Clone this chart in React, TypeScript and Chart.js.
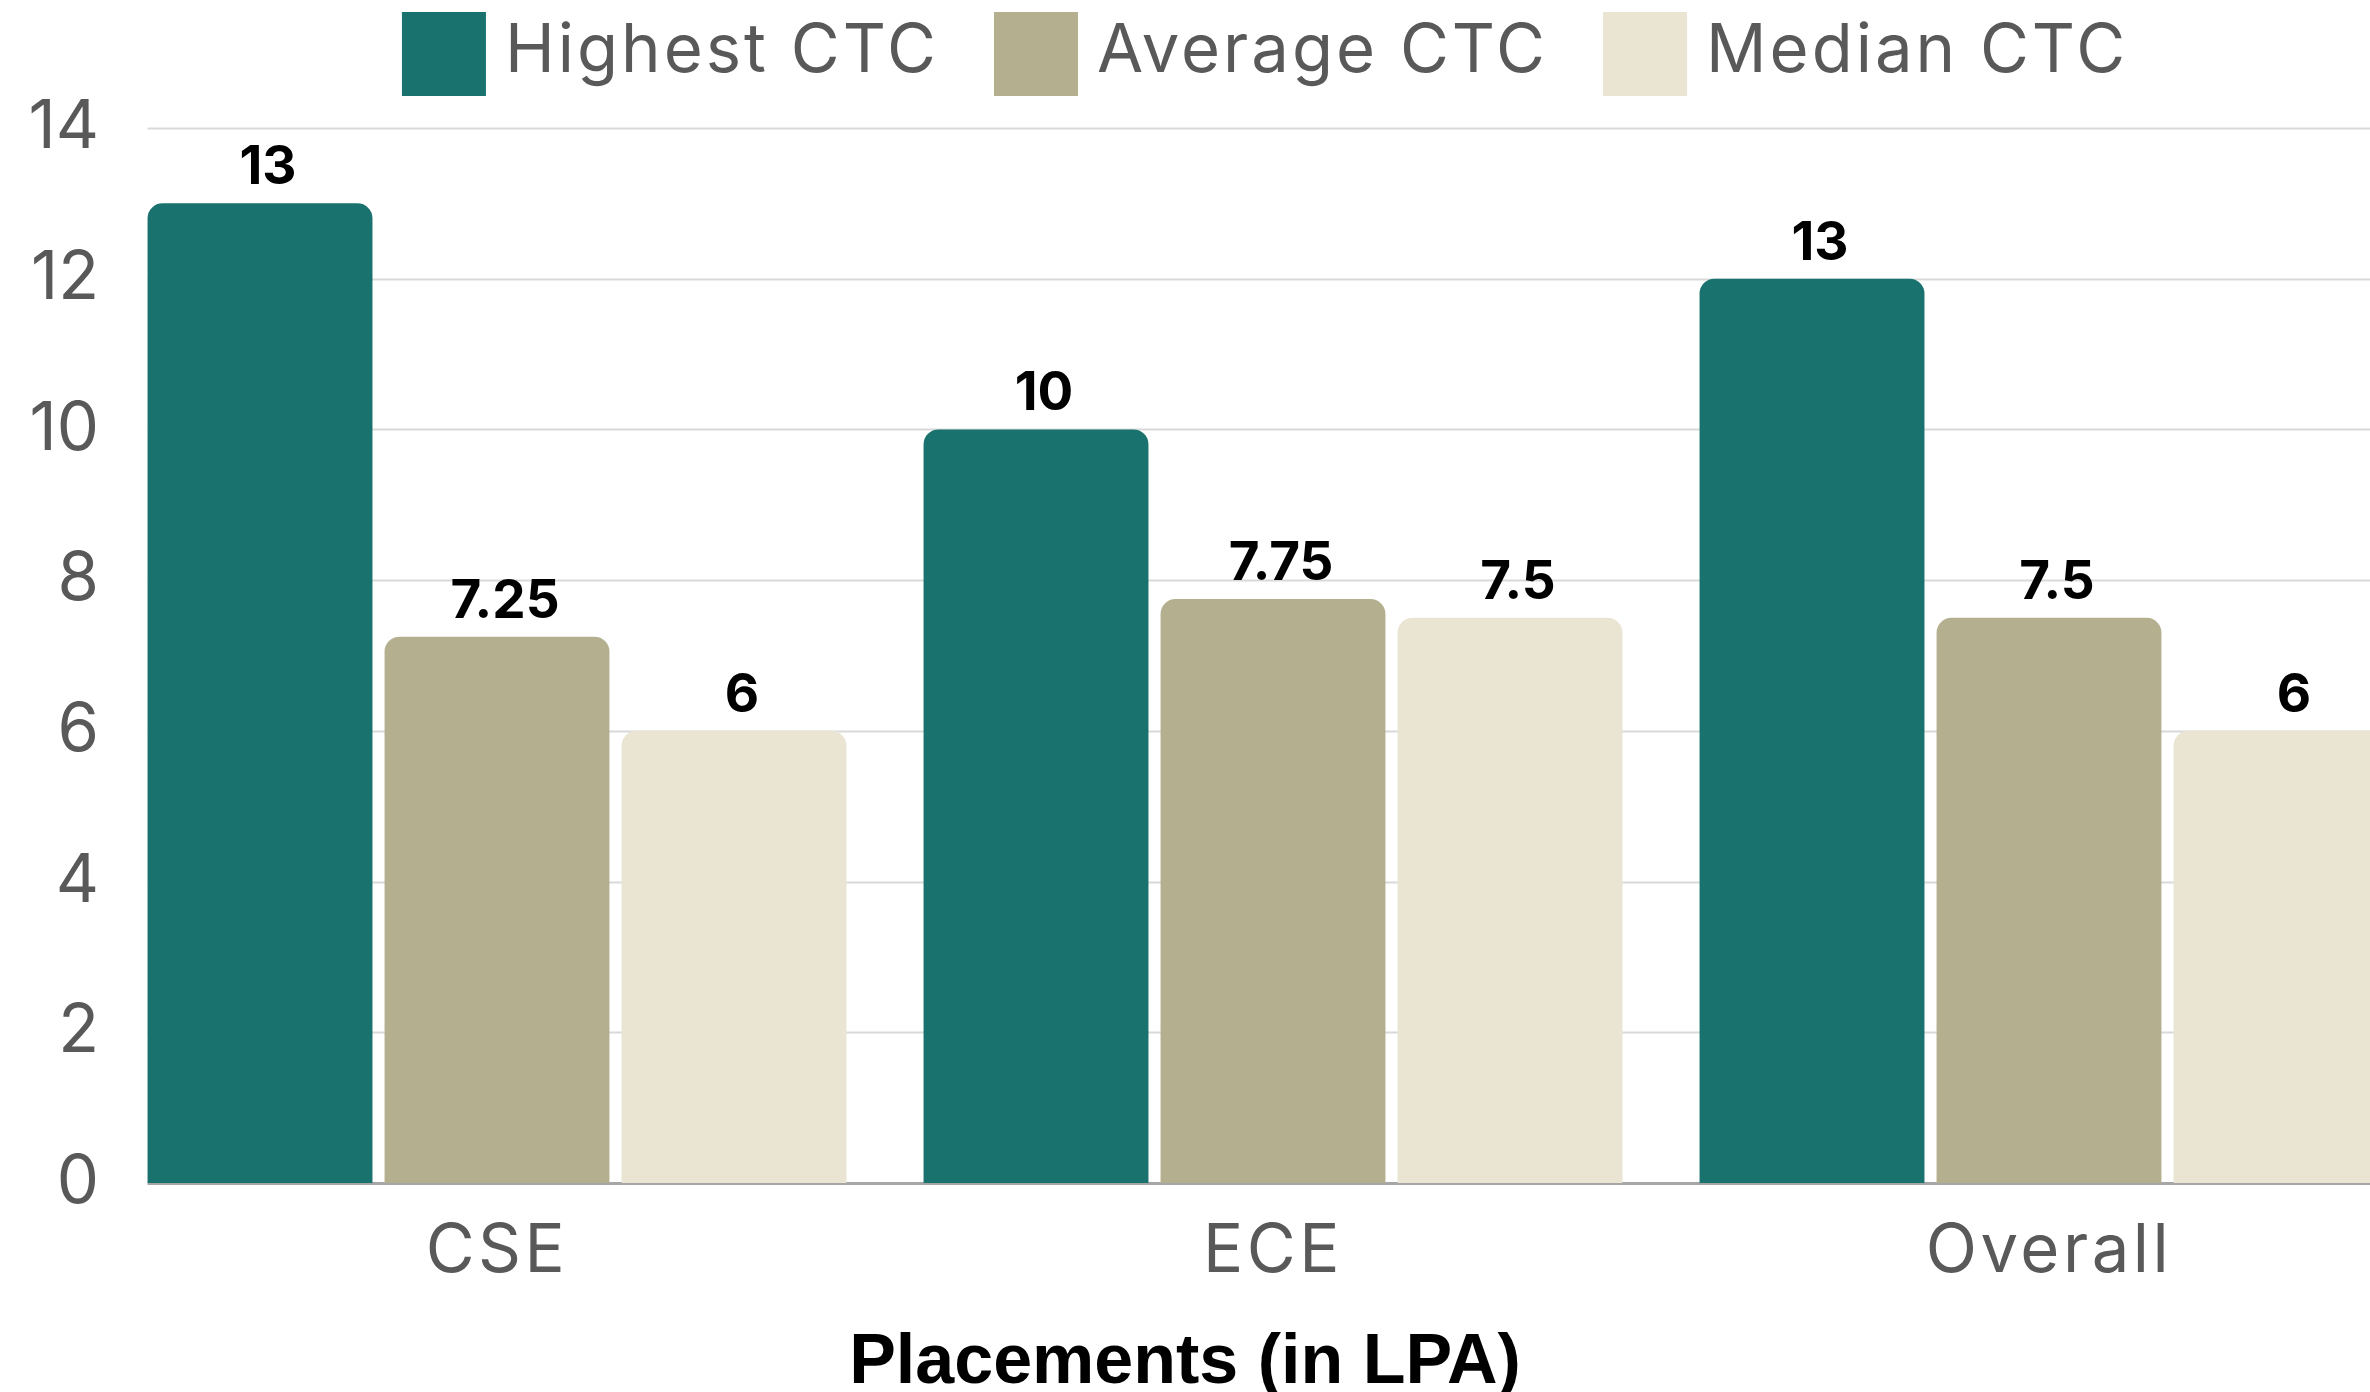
import React, { useEffect, useRef } from "react";
import { Chart, registerables } from "chart.js";

Chart.register(...registerables);

// ---- data ----
const categories = ["CSE", "ECE", "Overall"];
const seriesNames = ["Highest CTC", "Average CTC", "Median CTC"];
const highestCTC = [13, 10, 12];
const averageCTC = [7.25, 7.75, 7.5];
const medianCTC = [6, 7.5, 6];
const highestLabels = ["13", "10", "13"];
const averageLabels = ["7.25", "7.75", "7.5"];
const medianLabels = ["6", "7.5", "6"];
const yMin = 0;
const yMax = 14;
const yStep = 2;
const xAxisTitle = "Placements (in LPA)";

// ---- style ----
const seriesColors = ["#19726E", "#B4B08F", "#EAE4D3"];
const textGray = "#595959";
const CANVAS_W = 2437;
const CANVAS_H = 1392;
const VIEW_W = 2370;

const valueLabels = [highestLabels, averageLabels, medianLabels];

const decorPlugin = {
  id: "decor",
  beforeDraw(chart: any) {
    (chart.ctx as any).letterSpacing = "0px";
  },
  beforeDatasetsDraw(chart: any) {
    const ctx = chart.ctx;
    const y = chart.scales.y;
    const first = chart.getDatasetMeta(0).data[0];
    const x0 = first.x - first.width / 2;
    const x1 = chart.width;
    ctx.save();
    y.ticks.forEach((t: any) => {
      const py = Math.round(y.getPixelForValue(t.value)) + 0.5;
      ctx.beginPath();
      if (t.value === 0) {
        ctx.strokeStyle = "#A6A6A6";
        ctx.lineWidth = 3;
      } else {
        ctx.strokeStyle = "#D9D9D9";
        ctx.lineWidth = 2;
      }
      ctx.moveTo(x0, py);
      ctx.lineTo(x1, py);
      ctx.stroke();
    });
    ctx.restore();
  },
  afterDatasetsDraw(chart: any) {
    const ctx = chart.ctx;
    ctx.save();
    ctx.font = "700 53px Inter";
    ctx.fillStyle = "#000000";
    ctx.textAlign = "center";
    ctx.textBaseline = "alphabetic";
    chart.data.datasets.forEach((ds: any, i: number) => {
      const meta = chart.getDatasetMeta(i);
      meta.data.forEach((bar: any, j: number) => {
        ctx.fillText(valueLabels[i][j], bar.x + 8, bar.y - 19);
      });
    });
    ctx.restore();
    // x tick labels are drawn after this (ticks.z = 1) with a little tracking
    (ctx as any).letterSpacing = "3.5px";
  },
  afterDraw(chart: any) {
    const ctx = chart.ctx;
    (ctx as any).letterSpacing = "0px";
    ctx.save();
    // legend
    ctx.font = "400 67px Inter";
    (ctx as any).letterSpacing = "3px";
    const boxW = 84;
    const boxH = 84;
    const gapBoxText = 19;
    const gapItems = 55;
    const widths = seriesNames.map((n) => ctx.measureText(n).width);
    const total =
      widths.reduce((a, w) => a + boxW + gapBoxText + w, 0) + gapItems * (seriesNames.length - 1);
    let x = 1265 - total / 2;
    const boxTop = 12;
    const baseline = 72;
    seriesNames.forEach((n, i) => {
      ctx.fillStyle = seriesColors[i];
      ctx.fillRect(x, boxTop, boxW, boxH);
      x += boxW + gapBoxText;
      ctx.fillStyle = textGray;
      ctx.textAlign = "left";
      ctx.textBaseline = "alphabetic";
      ctx.fillText(n, x, baseline);
      x += widths[i] + gapItems;
    });
    // x axis title
    (ctx as any).letterSpacing = "0px";
    ctx.font = "700 70px 'Liberation Sans'";
    ctx.fillStyle = "#000000";
    ctx.textAlign = "center";
    ctx.textBaseline = "alphabetic";
    ctx.fillText(xAxisTitle, VIEW_W / 2, 1383);
    ctx.restore();
  },
};

export default function App() {
  const ref = useRef<HTMLCanvasElement | null>(null);
  useEffect(() => {
    if (!ref.current) return;
    const chart = new Chart(ref.current, {
      type: "bar",
      data: {
        labels: categories,
        datasets: seriesNames.map((name, i) => ({
          label: name,
          data: [highestCTC, averageCTC, medianCTC][i],
          backgroundColor: seriesColors[i],
          borderWidth: 0,
          borderRadius: { topLeft: 15, topRight: 15, bottomLeft: 0, bottomRight: 0 },
          borderSkipped: "bottom",
          categoryPercentage: 0.9162,
          barPercentage: 0.949,
        })),
      },
      options: {
        responsive: false,
        animation: false,
        devicePixelRatio: 1,
        layout: { padding: { top: 128, bottom: 99, left: 0, right: 0 } },
        plugins: {
          legend: { display: false },
          tooltip: { enabled: false },
        },
        scales: {
          x: {
            grid: { display: false, drawTicks: false },
            border: { display: false },
            ticks: {
              z: 1,
              color: textGray,
              font: { family: "Inter", size: 67, weight: "400" },
              padding: 29,
            },
            afterFit(scale: any) {
              scale.height = 110;
            },
          },
          y: {
            min: yMin,
            max: yMax,
            grid: { display: false, drawTicks: false },
            border: { display: false },
            ticks: {
              stepSize: yStep,
              color: textGray,
              font: { family: "Inter", size: 67, weight: "400" },
              padding: 10,
            },
            afterFit(scale: any) {
              scale.width = 109;
            },
          },
        },
      },
      plugins: [decorPlugin],
    } as any);
    return () => chart.destroy();
  }, []);
  return (
    <div
      style={{
        position: "fixed",
        left: 0,
        top: 0,
        width: VIEW_W,
        height: CANVAS_H,
        overflow: "hidden",
        background: "#ffffff",
      }}
    >
      <canvas
        ref={ref}
        width={CANVAS_W}
        height={CANVAS_H}
        style={{ width: CANVAS_W, height: CANVAS_H, display: "block" }}
      />
    </div>
  );
}
